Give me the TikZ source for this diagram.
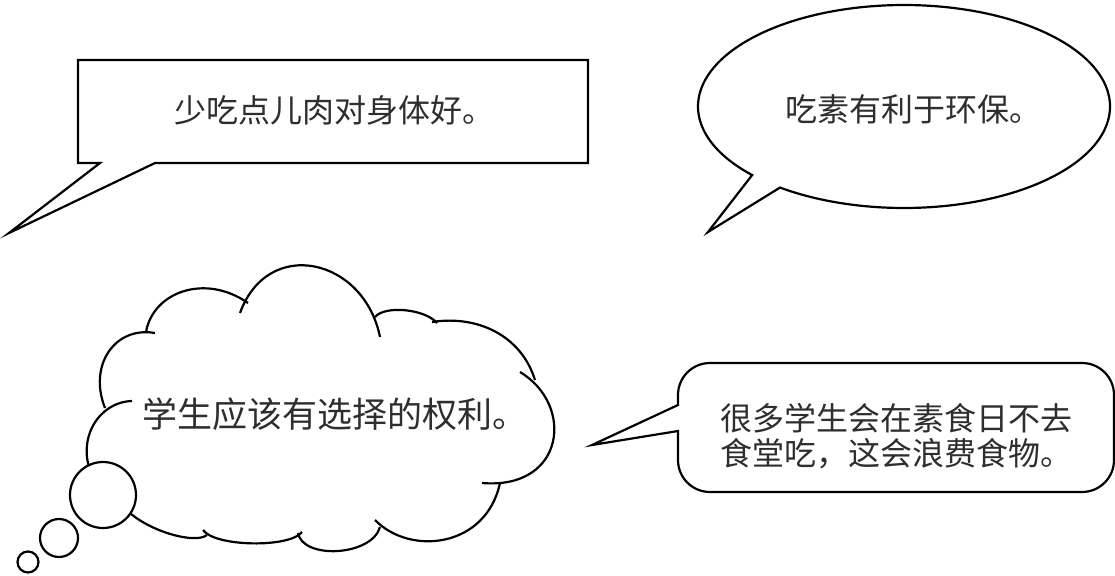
\documentclass[tikz,border=0pt]{standalone}
\usepackage{fontspec}
\newfontfamily\cjk{Noto Sans CJK SC}
\tikzset{
  outline/.style={draw=black, line width=2.2pt, line join=miter, fill=white},
  cloudline/.style={draw=black, line width=2.2pt, line cap=butt},
  txt/.style={font=\cjk\fontsize{32}{35}\selectfont, inner sep=0pt, text=black!82},
  bigtxt/.style={font=\cjk\fontsize{35}{38}\selectfont, inner sep=0pt, text=black!82},
}
\begin{document}
\begin{tikzpicture}[x=1pt,y=-1pt]
\useasboundingbox (0,0) rectangle (1115,575);

% ---- box 1 (rectangle with tail)
\coordinate (b1tip) at (9,233);
\coordinate (b1ja) at (100,163);
\coordinate (b1jb) at (155,163);
\draw[outline] (78,60) -- (588,60) -- (588,163) -- (b1jb) -- (b1tip) -- (b1ja) -- (78,163) -- cycle;
\node[txt] (t1) at (334,110) {少吃点儿肉对身体好。};

% ---- ellipse bubble
\coordinate (b2tip) at (708,232);
\draw[outline] plot[domain=137.5:487,samples=240] ({904+206*cos(\x)},{106.5+101.5*sin(\x)}) -- (b2tip) -- cycle;
\node[txt] (t2) at (913,109) {吃素有利于环保。};

% ---- thought cloud
\draw[cloudline] (92,475) .. controls (76,440) and (98,402) .. (132,401);
\draw[cloudline] (105,408) .. controls (88,365) and (115,326) .. (155,333);
\draw[cloudline] (146,332) .. controls (153,292) and (205,273) .. (248,303);
\draw[cloudline] (240,313) .. controls (268,236) and (364,258) .. (380,337);
\draw[cloudline] (375,317) .. controls (385,305) and (425,309) .. (437,323);
\draw[cloudline] (432,322) .. controls (477,315) and (521,335) .. (535,380);
\draw[cloudline] (520,372) .. controls (575,405) and (565,490) .. (482,483);
\draw[cloudline] (500,483) .. controls (486,548) and (410,556) .. (375,520);
\draw[cloudline] (380,527) .. controls (372,556) and (303,560) .. (298,533);
\draw[cloudline] (302,532) .. controls (290,548) and (215,547) .. (203,530);
\draw[cloudline] (207,535) .. controls (195,545) and (142,530) .. (122,505);
\draw[outline] (103,495) circle[radius=33];
\draw[outline] (59,538) circle[radius=19];
\draw[outline] (28,562) circle[radius=10.5];
\node[bigtxt] (t3) at (335,414) {学生应该有选择的权利。};

% ---- rounded bubble with tail
\coordinate (b4tip) at (592,445);
\coordinate (b4ja) at (678,405);
\coordinate (b4jb) at (678,431);
\draw[outline] (b4ja) -- (678,395)
  .. controls (678,377.3) and (692.3,363) .. (710,363) -- (1082,363)
  .. controls (1099.7,363) and (1114,377.3) .. (1114,395) -- (1114,460)
  .. controls (1114,477.7) and (1099.7,492) .. (1082,492) -- (710,492)
  .. controls (692.3,492) and (678,477.7) .. (678,460) -- (b4jb) -- (b4tip) -- cycle;
\node[txt, align=left] (t4) at (896,436.5) {很多学生会在素食日不去\\食堂吃，这会浪费食物。};
\end{tikzpicture}
\end{document}
